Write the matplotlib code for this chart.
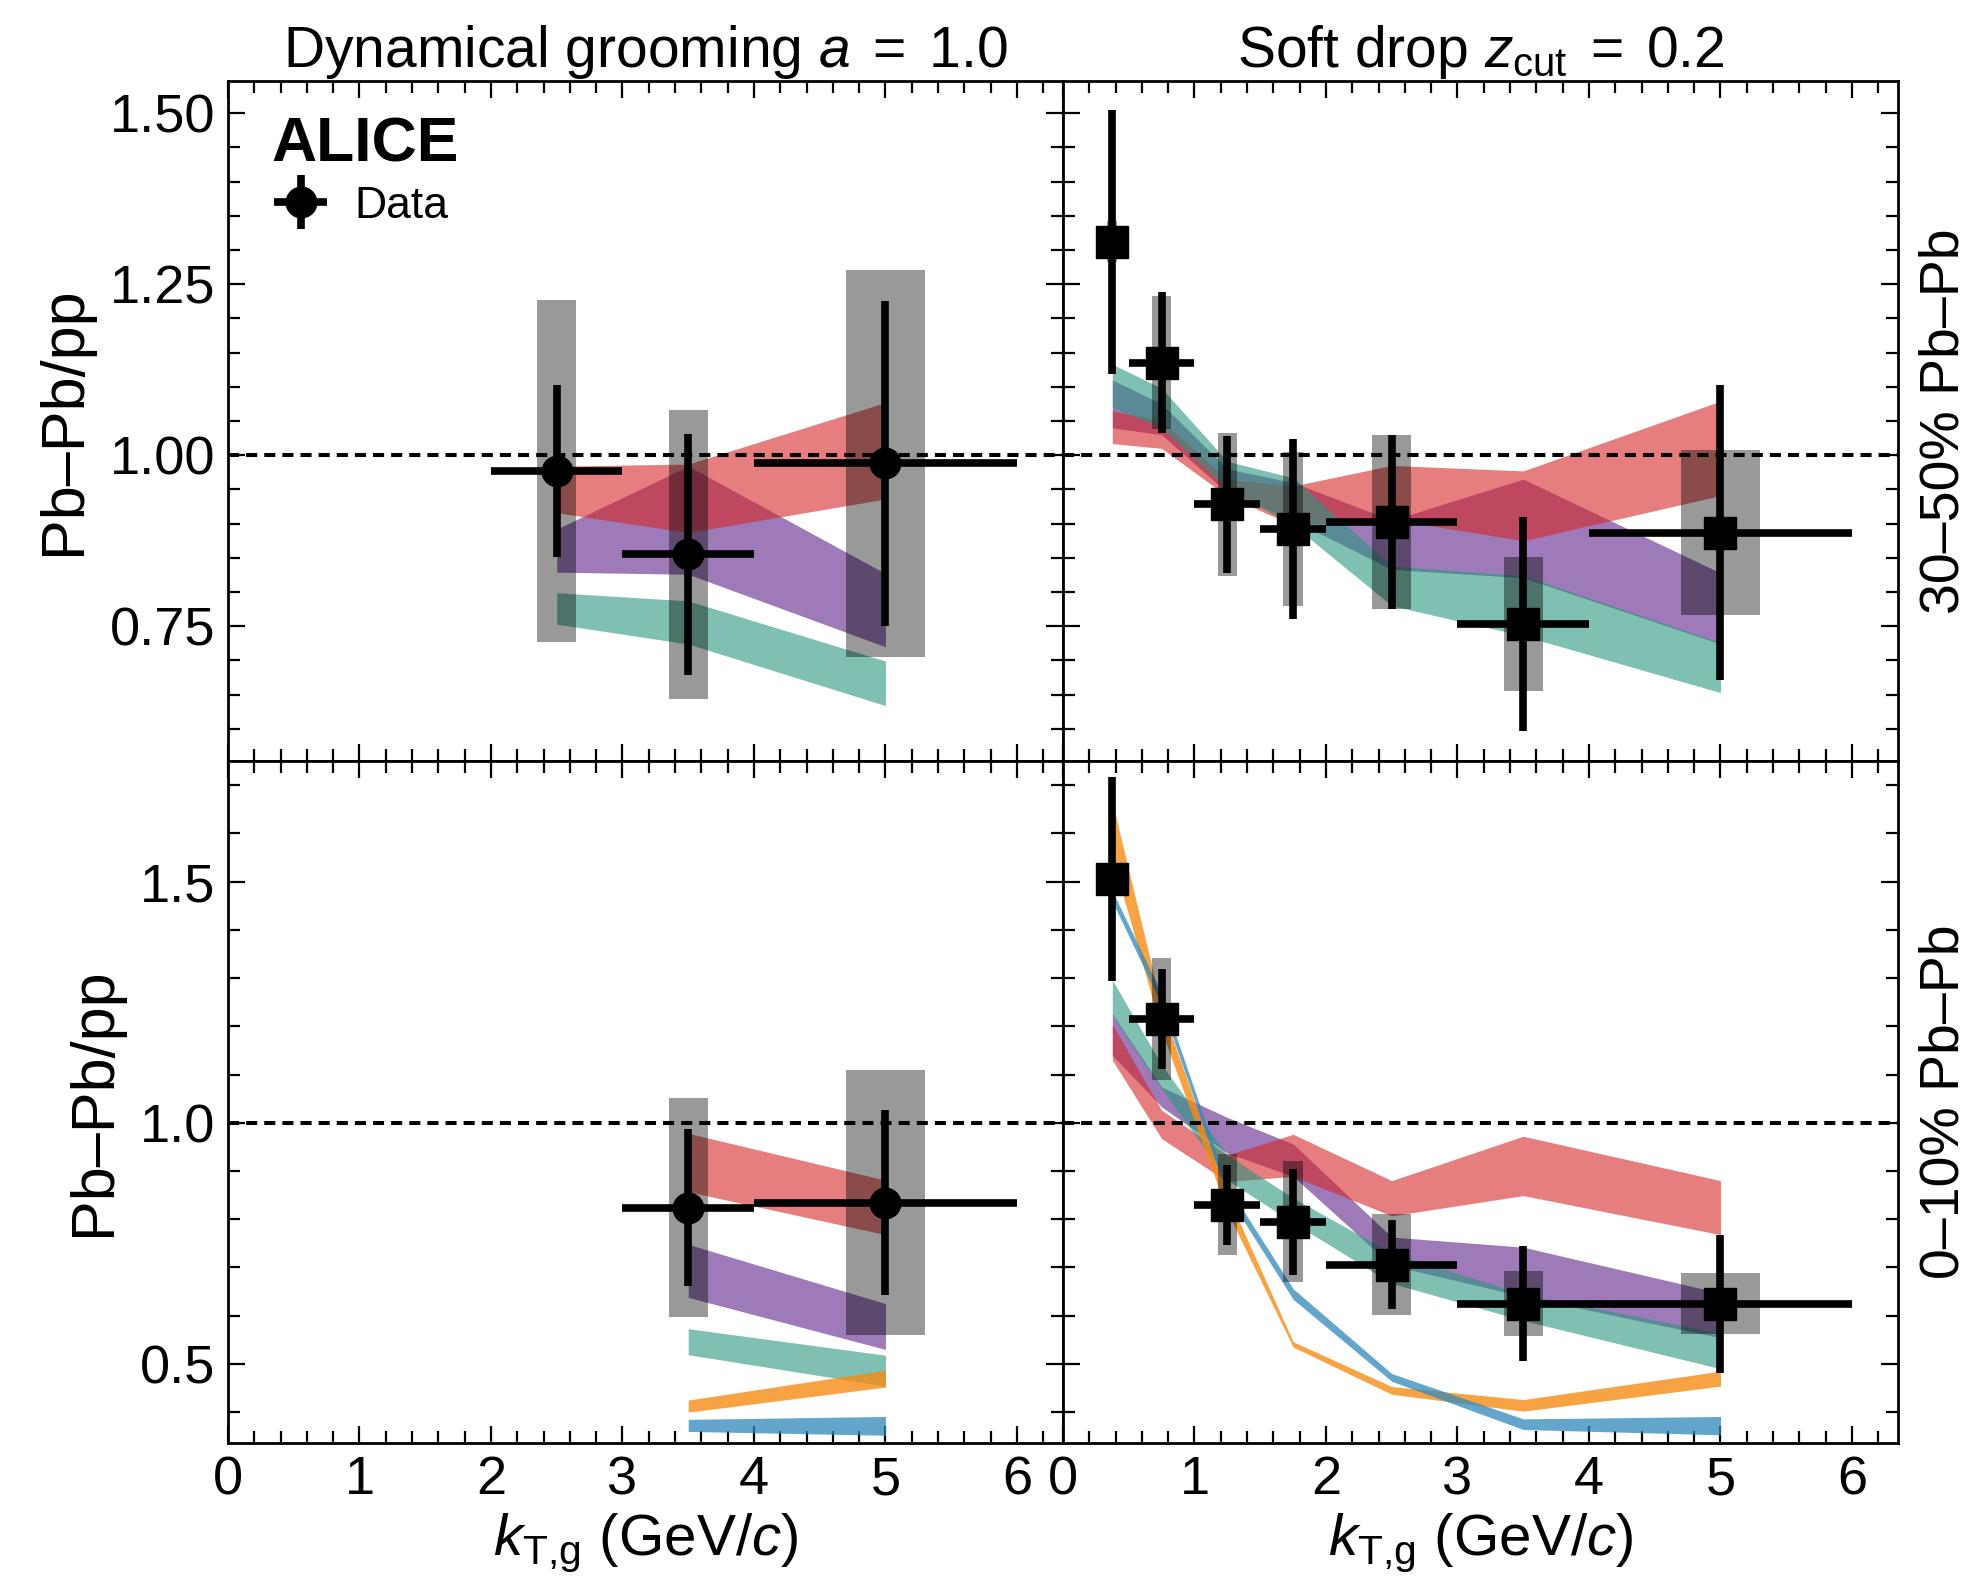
import matplotlib
matplotlib.use("Agg")
import matplotlib.pyplot as plt
from matplotlib.ticker import MultipleLocator, FormatStrFormatter
from matplotlib.patches import Rectangle
from matplotlib.container import ErrorbarContainer
from matplotlib.legend_handler import HandlerErrorbar

FONT = "Liberation Sans"
plt.rcParams.update({
    "font.family": [FONT, "DejaVu Sans"],
    "mathtext.fontset": "custom",
    "mathtext.rm": FONT,
    "mathtext.it": FONT + ":italic",
    "mathtext.bf": FONT + ":bold",
    "mathtext.sf": FONT,
})

# ---------------- data ----------------
# Dynamical grooming a = 1.0
dg_x = [2.5, 3.5, 5.0]
dg_xerr = [0.5, 0.5, 1.0]

dg3050_y = [0.977, 0.855, 0.988]
dg3050_stat = [0.126, 0.176, 0.237]
dg3050_sys = [0.250, 0.211, 0.283]
dg3050_red_lo = [0.916, 0.887, 0.936]
dg3050_red_hi = [0.984, 0.987, 1.077]
dg3050_purple_lo = [0.829, 0.826, 0.720]
dg3050_purple_hi = [0.892, 0.984, 0.827]
dg3050_green_lo = [0.753, 0.724, 0.634]
dg3050_green_hi = [0.799, 0.787, 0.699]

dg010_x = [3.5, 5.0]
dg010_xerr = [0.5, 1.0]
dg010_y = [0.824, 0.834]
dg010_stat = [0.162, 0.192]
dg010_sys = [0.227, 0.275]
dg010_red_lo = [0.857, 0.768]
dg010_red_hi = [0.978, 0.881]
dg010_purple_lo = [0.638, 0.530]
dg010_purple_hi = [0.748, 0.625]
dg010_green_lo = [0.519, 0.454]
dg010_green_hi = [0.573, 0.518]
dg010_orange_lo = [0.400, 0.452]
dg010_orange_hi = [0.425, 0.487]
dg010_blue_lo = [0.360, 0.352]
dg010_blue_hi = [0.385, 0.391]

# Soft drop z_cut = 0.2
sd_x = [0.375, 0.75, 1.25, 1.75, 2.5, 3.5, 5.0]
sd_xerr = [0.125, 0.25, 0.25, 0.25, 0.5, 0.5, 1.0]

sd3050_y = [1.312, 1.135, 0.928, 0.892, 0.902, 0.753, 0.887]
sd3050_stat = [0.193, 0.103, 0.100, 0.132, 0.127, 0.156, 0.215]
sd3050_sys = [0.030, 0.097, 0.104, 0.113, 0.127, 0.098, 0.120]
sd3050_red_lo = [1.017, 1.010, 0.940, 0.898, 0.906, 0.875, 0.941]
sd3050_red_hi = [1.065, 1.050, 0.965, 0.955, 0.985, 0.977, 1.079]
sd3050_purple_lo = [1.040, 1.030, 0.945, 0.905, 0.833, 0.821, 0.724]
sd3050_purple_hi = [1.110, 1.075, 0.980, 0.960, 0.905, 0.965, 0.828]
sd3050_green_lo = [1.070, 1.040, 0.950, 0.898, 0.780, 0.736, 0.653]
sd3050_green_hi = [1.133, 1.098, 0.991, 0.967, 0.838, 0.824, 0.726]

sd010_y = [1.505, 1.215, 0.830, 0.795, 0.706, 0.625, 0.625]
sd010_stat = [0.212, 0.104, 0.083, 0.110, 0.092, 0.120, 0.143]
sd010_sys = [0.030, 0.126, 0.105, 0.126, 0.105, 0.068, 0.064]
sd010_red_lo = [1.130, 0.967, 0.878, 0.889, 0.807, 0.849, 0.768]
sd010_red_hi = [1.204, 1.026, 0.933, 0.976, 0.880, 0.972, 0.880]
sd010_purple_lo = [1.140, 1.033, 0.937, 0.889, 0.704, 0.640, 0.554]
sd010_purple_hi = [1.226, 1.074, 1.011, 0.956, 0.763, 0.742, 0.647]
sd010_green_lo = [1.222, 1.070, 0.881, 0.793, 0.667, 0.590, 0.490]
sd010_green_hi = [1.296, 1.120, 0.933, 0.844, 0.730, 0.645, 0.564]
sd010_orange_lo = [1.550, 1.190, 0.815, 0.535, 0.437, 0.402, 0.454]
sd010_orange_hi = [1.665, 1.240, 0.850, 0.546, 0.453, 0.426, 0.485]
sd010_blue_lo = [1.459, 1.244, 0.850, 0.634, 0.464, 0.364, 0.353]
sd010_blue_hi = [1.481, 1.267, 0.870, 0.656, 0.480, 0.386, 0.391]

# ---------------- style ----------------
C_RED, A_RED = "#d62728", 0.6
C_PURPLE, A_PURPLE = "#5d2189", 0.6
C_GREEN, A_GREEN = "#2b967f", 0.6
C_ORANGE, A_ORANGE = "#f58c14", 0.8
C_BLUE, A_BLUE = "#3087bc", 0.75

FS = 39
W, H, DPI = 1979, 1589, 100
fig = plt.figure(figsize=(W / DPI, H / DPI), dpi=DPI)

left, right = 228 / W, 1898 / W
top, mid, bottom = 1 - 81 / H, 1 - 761 / H, 1 - 1443 / H
colw = (right - left) / 2
ax_tl = fig.add_axes([left, mid, colw, top - mid])
ax_tr = fig.add_axes([left + colw, mid, colw, top - mid])
ax_bl = fig.add_axes([left, bottom, colw, mid - bottom])
ax_br = fig.add_axes([left + colw, bottom, colw, mid - bottom])


def draw_bands(ax, x, bands):
    for lo, hi, col, a in bands:
        ax.fill_between(x, lo, hi, color=col, alpha=a, lw=0, zorder=2)


def draw_data(ax, x, xerr, y, stat, sys, marker, ms):
    for xi, xe, yi, si in zip(x, xerr, y, sys):
        hw = 0.3 * xe
        ax.add_patch(Rectangle((xi - hw, yi - si), 2 * hw, 2 * si,
                               facecolor="k", alpha=0.4, lw=0, zorder=3))
    return ax.errorbar(x, y, xerr=xerr, yerr=stat, fmt=marker, color="k",
                       ms=ms, elinewidth=5.5, capsize=0, zorder=5)


draw_bands(ax_tl, dg_x, [
    (dg3050_purple_lo, dg3050_purple_hi, C_PURPLE, A_PURPLE),
    (dg3050_red_lo, dg3050_red_hi, C_RED, A_RED),
    (dg3050_green_lo, dg3050_green_hi, C_GREEN, A_GREEN),
])
eb = draw_data(ax_tl, dg_x, dg_xerr, dg3050_y, dg3050_stat, dg3050_sys, "o", 22)

draw_bands(ax_bl, dg010_x, [
    (dg010_purple_lo, dg010_purple_hi, C_PURPLE, A_PURPLE),
    (dg010_red_lo, dg010_red_hi, C_RED, A_RED),
    (dg010_green_lo, dg010_green_hi, C_GREEN, A_GREEN),
    (dg010_orange_lo, dg010_orange_hi, C_ORANGE, A_ORANGE),
    (dg010_blue_lo, dg010_blue_hi, C_BLUE, A_BLUE),
])
draw_data(ax_bl, dg010_x, dg010_xerr, dg010_y, dg010_stat, dg010_sys, "o", 22)

draw_bands(ax_tr, sd_x, [
    (sd3050_purple_lo, sd3050_purple_hi, C_PURPLE, A_PURPLE),
    (sd3050_red_lo, sd3050_red_hi, C_RED, A_RED),
    (sd3050_green_lo, sd3050_green_hi, C_GREEN, A_GREEN),
])
draw_data(ax_tr, sd_x, sd_xerr, sd3050_y, sd3050_stat, sd3050_sys, "s", 23)

draw_bands(ax_br, sd_x, [
    (sd010_purple_lo, sd010_purple_hi, C_PURPLE, A_PURPLE),
    (sd010_red_lo, sd010_red_hi, C_RED, A_RED),
    (sd010_green_lo, sd010_green_hi, C_GREEN, A_GREEN),
    (sd010_orange_lo, sd010_orange_hi, C_ORANGE, A_ORANGE),
    (sd010_blue_lo, sd010_blue_hi, C_BLUE, A_BLUE),
])
draw_data(ax_br, sd_x, sd_xerr, sd010_y, sd010_stat, sd010_sys, "s", 23)

# ---------------- axes ----------------
for ax in (ax_tl, ax_tr, ax_bl, ax_br):
    ax.axhline(1.0, color="k", ls="--", lw=2.9, dashes=(2.75, 1.75), zorder=4)
    ax.set_xlim(0, 6.35)
    ax.xaxis.set_major_locator(MultipleLocator(1))
    ax.xaxis.set_minor_locator(MultipleLocator(0.2))
    ax.tick_params(which="both", direction="in", top=True, right=True,
                   labelsize=FS, width=1.6)
    ax.tick_params(which="major", length=12, pad=9)
    ax.tick_params(which="minor", length=8.5)
    for sp in ax.spines.values():
        sp.set_linewidth(2.0)

for ax in (ax_tl, ax_tr):
    ax.set_ylim(0.553, 1.547)
    ax.yaxis.set_major_locator(MultipleLocator(0.25))
    ax.yaxis.set_minor_locator(MultipleLocator(0.05))
    ax.yaxis.set_major_formatter(FormatStrFormatter("%.2f"))
    ax.tick_params(labelbottom=False)
for ax in (ax_bl, ax_br):
    ax.set_ylim(0.336, 1.75)
    ax.yaxis.set_major_locator(MultipleLocator(0.5))
    ax.yaxis.set_minor_locator(MultipleLocator(0.1))
    ax.yaxis.set_major_formatter(FormatStrFormatter("%.1f"))
    ax.set_xlabel(r"$k_{\mathrm{T{,}g}}$ (GeV/$c$)", fontsize=42, labelpad=4)
for ax in (ax_tr, ax_br):
    ax.tick_params(labelleft=False)
for ax in (ax_tl, ax_bl):
    ax.set_ylabel("Pb–Pb/pp", fontsize=44, labelpad=12)

ax_tl.set_title(r"Dynamical grooming $a\;=\;1.0$", fontsize=41, pad=9)
ax_tr.set_title(r"Soft drop $z_{\mathrm{cut}}\;=\;0.2$", fontsize=41, pad=9)

ax_tr.text(1.056, 0.5, "30–50% Pb–Pb", rotation=90, va="center", ha="center",
           fontsize=40, transform=ax_tr.transAxes)
ax_br.text(1.056, 0.5, "0–10% Pb–Pb", rotation=90, va="center", ha="center",
           fontsize=40, transform=ax_br.transAxes)

ax_tl.text(0.052, 0.881, "ALICE", fontsize=45, fontweight="bold",
           va="baseline", ha="left", transform=ax_tl.transAxes)
ax_tl.legend(handles=[eb], labels=["Data"], loc="center left",
             bbox_to_anchor=(0.055, 0.816), frameon=False, fontsize=32,
             handlelength=1.2, handletextpad=0.6, borderpad=0,
             borderaxespad=0,
             handler_map={ErrorbarContainer: HandlerErrorbar(xerr_size=0.6)})

fig.savefig("out.png", dpi=DPI)
